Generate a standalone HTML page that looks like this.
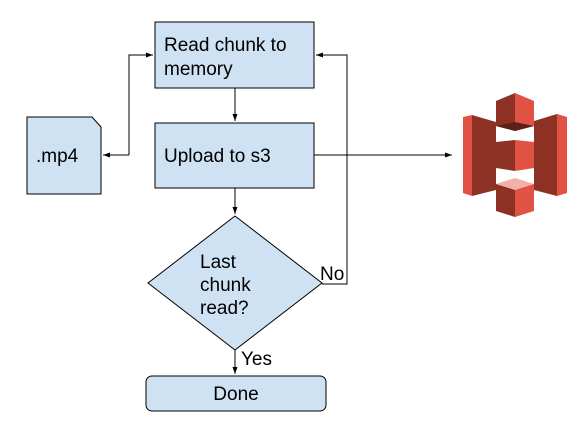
<!DOCTYPE html>
<html><head><style>body{margin:0;background:#fff}</style></head><body>
<svg width="583" height="418" viewBox="0 0 583 418" xmlns="http://www.w3.org/2000/svg" font-family="Liberation Sans, sans-serif" font-size="19">
<defs><marker id="a" markerWidth="8" markerHeight="8" refX="7" refY="4" orient="auto" markerUnits="userSpaceOnUse"><path d="M0,1.5 L7,4 L0,6.5z" fill="#000"/></marker></defs>
<g fill="#cfe2f3" stroke="#000" stroke-width="1">
<rect x="155" y="22" width="159" height="66"/>
<rect x="155" y="123" width="159" height="65"/>
<path d="M27,117 H92 L101,127 V194 H27z"/>
<path d="M235,216 L322,283 L235,350 L148,283z"/>
<rect x="146" y="376" width="180" height="35" rx="6"/>
</g>
<g stroke="#000" fill="none" stroke-width="1">
<path d="M235,88 V121" marker-end="url(#a)"/>
<path d="M235,188 V214" marker-end="url(#a)"/>
<path d="M235,350 V374" marker-end="url(#a)"/>
<path d="M129,155 V55 H153" marker-end="url(#a)"/>
<path d="M129,155 H103" marker-end="url(#a)"/>
<path d="M322,284 H347 V55 H316" marker-end="url(#a)"/>
<path d="M314,155 H452" marker-end="url(#a)"/>
</g>
<g fill="#000">
<text x="164" y="51">Read chunk to</text>
<text x="164" y="75">memory</text>
<text x="164" y="162">Upload to s3</text>
<text x="36" y="162">.mp4</text>
<text x="200" y="268">Last</text>
<text x="200" y="291">chunk</text>
<text x="200" y="314">read?</text>
<text x="320" y="280">No</text>
<text x="241" y="365">Yes</text>
<text x="236" y="400" text-anchor="middle">Done</text>
</g>
<g>
<path d="M463,117 L472,115 V196 L463,193z" fill="#e05243"/>
<path d="M472,115 L496,122 V190 L472,196z" fill="#8c3123"/>
<path d="M567,117 L557,114 V196 L567,193z" fill="#e05243"/>
<path d="M557,114 L534,121 V190 L557,196z" fill="#8c3123"/>
<path d="M496,101 L515,93 V131 L496,126z" fill="#8c3123"/>
<path d="M515,93 L534,101 V126 L515,131z" fill="#e05243"/>
<path d="M496,126 L515,122 L534,126 L515,131z" fill="#5e1f18"/>
<path d="M496,142 L515,140 V171 L496,168z" fill="#8c3123"/>
<path d="M515,140 L534,142 V168 L515,171z" fill="#e05243"/>
<path d="M496,184 L515,178 L534,184 L515,190z" fill="#f2b0a9"/>
<path d="M496,184 L515,190 V217 L496,211z" fill="#8c3123"/>
<path d="M515,190 L534,184 V211 L515,217z" fill="#e05243"/>
</g>
</svg>
</body></html>
